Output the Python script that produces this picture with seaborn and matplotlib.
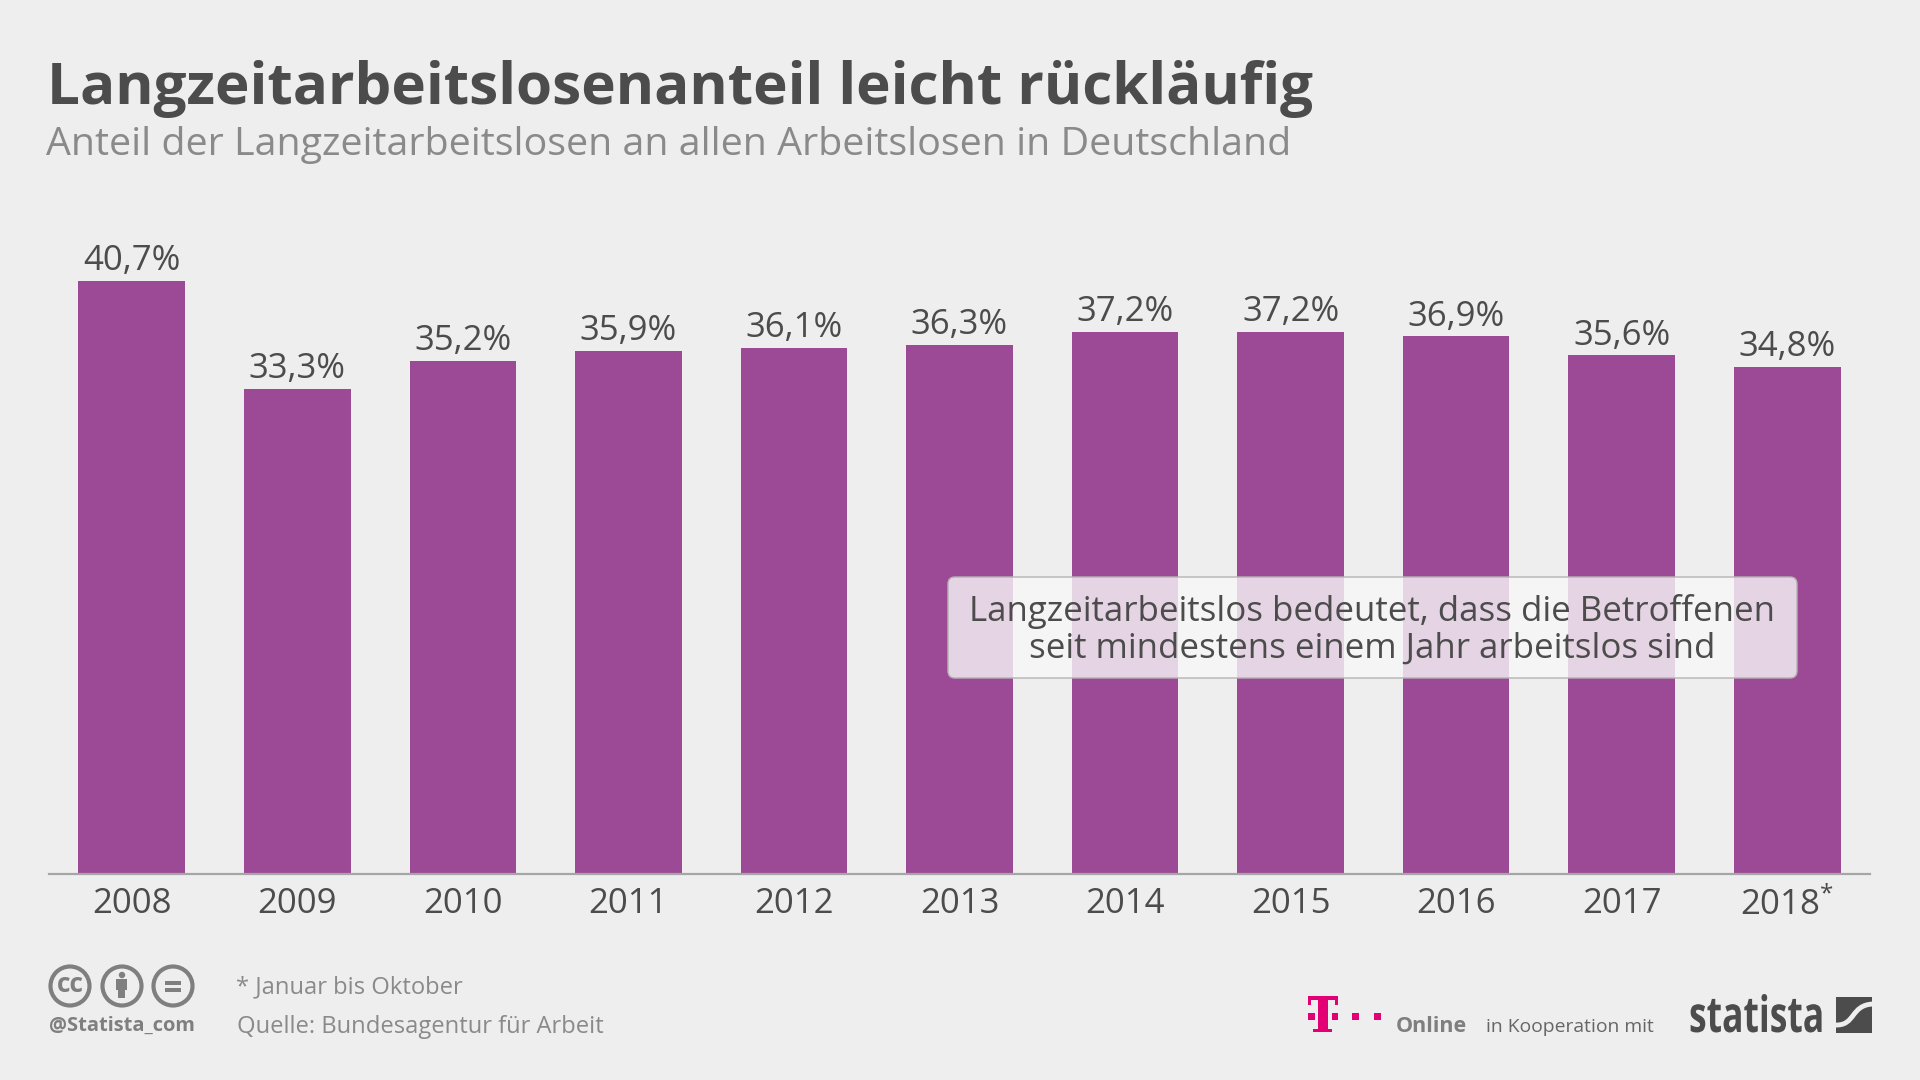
import matplotlib
matplotlib.use("Agg")
import matplotlib.pyplot as plt
import seaborn as sns
from matplotlib.patches import Circle, Rectangle, FancyBboxPatch, PathPatch
from matplotlib.path import Path
from matplotlib.text import Text
from matplotlib.textpath import TextPath
from matplotlib.font_manager import FontProperties
from matplotlib.transforms import Affine2D

years = ["2008", "2009", "2010", "2011", "2012", "2013", "2014", "2015", "2016", "2017", "2018*"]
shares = [40.7, 33.3, 35.2, 35.9, 36.1, 36.3, 37.2, 37.2, 36.9, 35.6, 34.8]

TITLE = "Langzeitarbeitslosenanteil leicht rückläufig"
SUBTITLE = "Anteil der Langzeitarbeitslosen an allen Arbeitslosen in Deutschland"
NOTE = "Langzeitarbeitslos bedeutet, dass die Betroffenen\nseit mindestens einem Jahr arbeitslos sind"

BG = "#EEEEEE"
BAR = "#9C4A95"
DARK = "#4C4C4C"
GREY = "#8A8A8A"
ICON = "#7F7F7F"


class CondensedText(Text):
    """A text artist drawn horizontally condensed, for the logo lettering."""
    xscale = 0.71

    def draw(self, renderer):
        x, y = self.get_position()
        px = self.get_fontsize() * self.figure.dpi / 72
        prop = FontProperties(family="Open Sans", weight="bold")
        tp = TextPath((0, 0), self.get_text(), size=px, prop=prop)
        tr = Affine2D().scale(self.xscale, -1).translate(x, y) + self.axes.transData
        p = PathPatch(tp, facecolor=self.get_color(), edgecolor="none", transform=tr)
        p.set_figure(self.figure)
        p.draw(renderer)


sns.set_theme(style="white")
plt.rcParams["font.family"] = ["Open Sans", "DejaVu Sans"]
plt.rcParams["mathtext.fontset"] = "custom"
plt.rcParams["mathtext.rm"] = "Open Sans"
plt.rcParams["mathtext.it"] = "Open Sans"
plt.rcParams["mathtext.bf"] = "Open Sans:bold"

fig = plt.figure(figsize=(19.2, 10.8), dpi=100, facecolor=BG)
W, H = 1920, 1080

# main chart, placed to match the reference's plot area
top_px, base_px = 218, 874
ax = fig.add_axes([49 / W, (H - base_px) / H, 1821 / W, (base_px - top_px) / H], facecolor="none")
sns.barplot(x=years, y=shares, color=BAR, saturation=1, width=0.644, linewidth=0, ax=ax)
ax.set_xlim(-0.5, 10.5)
ax.set_ylim(0, 45)
ax.set_xlabel("")
ax.set_ylabel("")
ax.set_yticks([])
sns.despine(ax=ax, left=True)
ax.spines["bottom"].set_color("#A6A6A6")
ax.spines["bottom"].set_linewidth(1.6)
ax.set_xticks(range(len(years)))
ax.set_xticklabels([y.replace("*", "$^{*}$") for y in years])
ax.tick_params(axis="x", length=0, pad=9.5, labelsize=25, labelcolor=DARK)
ax.bar_label(ax.containers[0], labels=[f"{v:.1f}%".replace(".", ",") for v in shares],
             fontsize=25, color=DARK, padding=1.8)

# overlay in pixel coordinates for texts and logos
ov = fig.add_axes([0, 0, 1, 1], facecolor="none")
ov.set_xlim(0, W)
ov.set_ylim(H, 0)
ov.axis("off")

ov.text(47, 104.5, TITLE, fontsize=42.02, fontweight="bold", color=DARK, va="baseline")
ov.text(46.5, 155.5, SUBTITLE, fontsize=28.38, color=GREY, va="baseline")

ov.add_patch(FancyBboxPatch((948, 577), 849, 101, boxstyle="round,pad=0,rounding_size=7",
                            facecolor=(0.973, 0.973, 0.973, 0.8), edgecolor="#B4B4B4", linewidth=1))
ov.text(1372, 630, NOTE, fontsize=25.1, color=DARK, ha="center", va="center", linespacing=1.1)

# licence icons
for cx in (70, 122, 173):
    ov.add_patch(Circle((cx, 986), 19.5, facecolor="none", edgecolor=ICON, linewidth=3))
ov.text(70, 984.5, "cc", fontsize=19, fontweight="bold", color=ICON, ha="center", va="center")
ov.add_patch(Circle((122, 975), 3.2, facecolor=ICON, edgecolor="none"))
ov.add_patch(Rectangle((116, 979), 11, 11, facecolor=ICON, edgecolor="none"))
ov.add_patch(Rectangle((118, 989), 7, 9, facecolor=ICON, edgecolor="none"))
ov.add_patch(Rectangle((165, 980.5), 16, 4.5, facecolor=ICON, edgecolor="none"))
ov.add_patch(Rectangle((165, 987.5), 16, 4.5, facecolor=ICON, edgecolor="none"))

ov.text(49, 1026, "@Statista_com", fontsize=14.4, fontweight="bold", color=ICON, va="center")
ov.text(236, 987, "* Januar bis Oktober", fontsize=17.15, color=GREY, va="center")
ov.text(237, 1027, "Quelle: Bundesagentur für Arbeit", fontsize=17.15, color=GREY, va="center")

# T logo
MAG = "#E20074"
for x, y, w, h in [(1308, 996, 30, 4), (1308, 996, 3, 9), (1335, 996, 3, 9), (1318, 996, 10, 36),
                   (1313, 1029, 19, 3), (1308, 1012.5, 7, 7), (1332, 1012.5, 6, 7),
                   (1352, 1012.5, 7, 7), (1374, 1012.5, 7, 7)]:
    ov.add_patch(Rectangle((x, y), w, h, facecolor=MAG, edgecolor="none"))
ov.text(1396, 1032, "Online", fontsize=15.5, fontweight="bold", color=ICON, va="baseline")
ov.text(1486, 1032, "in Kooperation mit", fontsize=13.9, color="#666666", va="baseline")

logo = CondensedText(1689, 1032, "statista", fontsize=36, color=DARK)
ov.add_artist(logo)

# statista mark
ov.add_patch(Rectangle((1836, 997), 36, 36, facecolor=DARK, edgecolor="none"))
wave = Path([(1835, 1025), (1856, 1026), (1850, 1005), (1873, 1004)],
            [Path.MOVETO, Path.CURVE4, Path.CURVE4, Path.CURVE4])
ov.add_patch(PathPatch(wave, facecolor="none", edgecolor=BG, linewidth=3.5))

fig.savefig("out.png", dpi=100, facecolor=BG)
